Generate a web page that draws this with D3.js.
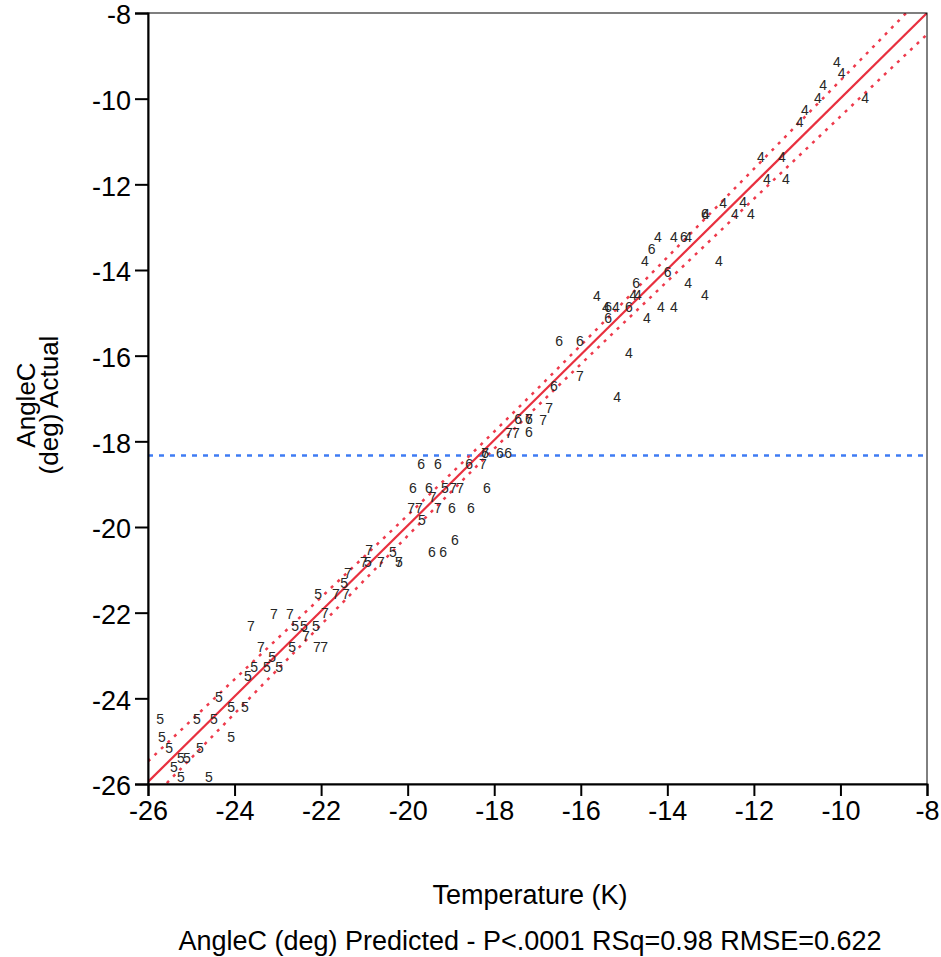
<!DOCTYPE html>
<html>
<head>
<meta charset="utf-8">
<script src="https://cdn.jsdelivr.net/npm/d3@7"></script>
<style>
  body { margin: 0; background: #fff; }
  text { font-family: "Liberation Sans", Arial, sans-serif; }
</style>
</head>
<body>
<div id="chart"></div>
<script>
// points, grouped by the label drawn at each one
var pts4 = [[-10.08,-9.14],[-9.97,-9.40],[-10.40,-9.68],[-10.52,-9.98],[-9.43,-9.98],
  [-10.82,-10.26],[-10.94,-10.54],[-11.84,-11.36],[-11.35,-11.36],[-11.70,-11.88],
  [-11.26,-11.88],[-12.71,-12.44],[-12.25,-12.41],[-13.11,-12.69],[-12.44,-12.69],
  [-12.07,-12.69],[-14.22,-13.23],[-13.85,-13.23],[-13.52,-13.23],[-14.52,-13.79],
  [-12.81,-13.79],[-13.52,-14.30],[-15.63,-14.61],[-14.79,-14.58],[-14.68,-14.58],
  [-13.13,-14.58],[-15.42,-14.86],[-15.19,-14.86],[-14.15,-14.86],[-13.85,-14.86],
  [-14.47,-15.12],[-14.89,-15.94],[-15.16,-16.97]];
var pts5 = [[-19.14,-19.09],[-19.67,-19.84],[-20.34,-20.58],[-20.92,-20.82],[-20.20,-20.82],
  [-21.47,-21.31],[-22.07,-21.57],[-22.60,-22.31],[-22.40,-22.31],[-22.12,-22.31],
  [-22.67,-22.80],[-23.13,-23.04],[-23.55,-23.27],[-23.25,-23.27],[-22.97,-23.27],
  [-23.69,-23.48],[-24.36,-23.97],[-24.08,-24.20],[-23.76,-24.20],[-25.72,-24.48],
  [-24.87,-24.48],[-24.48,-24.48],[-24.08,-24.90],[-25.68,-24.90],[-25.51,-25.16],
  [-24.80,-25.16],[-25.24,-25.40],[-25.10,-25.40],[-25.40,-25.60],[-25.24,-25.84],
  [-24.59,-25.84]];
var pts6 = [[-13.13,-12.69],[-13.62,-13.23],[-14.36,-13.51],[-13.99,-14.05],[-14.72,-14.30],
  [-15.37,-14.86],[-14.89,-14.86],[-15.37,-15.12],[-16.50,-15.66],[-16.02,-15.66],
  [-16.62,-16.71],[-17.45,-17.48],[-17.20,-17.48],[-17.20,-17.78],[-18.21,-18.27],
  [-17.87,-18.27],[-17.68,-18.27],[-19.69,-18.53],[-19.30,-18.53],[-18.58,-18.53],
  [-19.88,-19.09],[-19.51,-19.09],[-18.17,-19.09],[-18.98,-19.56],[-18.54,-19.56],
  [-18.91,-20.30],[-19.44,-20.58],[-19.18,-20.58]];
var pts7 = [[-16.02,-16.48],[-16.73,-17.22],[-17.20,-17.48],[-16.87,-17.50],[-17.66,-17.81],
  [-17.50,-17.81],[-18.21,-18.27],[-18.26,-18.53],[-18.95,-19.09],[-18.79,-19.09],
  [-19.42,-19.30],[-19.92,-19.56],[-19.74,-19.56],[-19.30,-19.56],[-20.89,-20.54],
  [-21.01,-20.82],[-20.62,-20.82],[-20.20,-20.82],[-21.38,-21.08],[-21.66,-21.57],
  [-21.43,-21.57],[-21.91,-22.01],[-23.09,-22.03],[-22.72,-22.03],[-23.62,-22.31],
  [-22.35,-22.55],[-23.39,-22.80],[-22.10,-22.80],[-21.93,-22.80]];

// fit line, confidence band half widths, mean of response
var fitX = [-26, -8];
var fitY = [-25.95, -8.0];
var bandX = [-26, -24, -22, -20, -18, -16, -14, -12, -10, -8];
var bandHalf = [0.48, 0.40, 0.32, 0.24, 0.20, 0.22, 0.28, 0.35, 0.42, 0.50];
var meanY = -18.33;

var ticks = [-26, -24, -22, -20, -18, -16, -14, -12, -10, -8];

var w = 941, h = 957;
var padL = 148, padR = 927, padT = 13, padB = 784;

var svg = d3.select("#chart").append("svg")
  .attr("width", w)
  .attr("height", h);

var xScale = d3.scaleLinear().domain([-26, -8]).range([padL, padR]);
var yScale = d3.scaleLinear().domain([-26, -8]).range([padB, padT]);
var fit = d3.scaleLinear().domain(fitX).range(fitY);

svg.append("defs").append("clipPath").attr("id", "plotclip")
  .append("rect")
  .attr("x", padL).attr("y", padT)
  .attr("width", padR - padL).attr("height", padB - padT);

var plot = svg.append("g").attr("clip-path", "url(#plotclip)");

// mean line
plot.append("line")
  .attr("x1", padL).attr("x2", padR)
  .attr("y1", yScale(meanY)).attr("y2", yScale(meanY))
  .attr("stroke", "#3f7cf4")
  .attr("stroke-width", 2.5)
  .attr("stroke-dasharray", "5,6");

// confidence curves
var band = bandX.map(function(x, i) { return { x: x, hw: bandHalf[i] }; });
var curve = d3.line().curve(d3.curveNatural)
  .x(function(d) { return xScale(d.x); });
[1, -1].forEach(function(s) {
  plot.append("path")
    .datum(band)
    .attr("d", curve.y(function(d) { return yScale(fit(d.x) + s * d.hw); }))
    .attr("fill", "none")
    .attr("stroke", "#ee3a4c")
    .attr("stroke-width", 2.5)
    .attr("stroke-dasharray", "3,6");
});

// fit line
plot.append("line")
  .attr("x1", xScale(fitX[0])).attr("y1", yScale(fitY[0]))
  .attr("x2", xScale(fitX[1])).attr("y2", yScale(fitY[1]))
  .attr("stroke", "#e8303f")
  .attr("stroke-width", 2.2);

// point labels
var groups = [["4", pts4], ["5", pts5], ["6", pts6], ["7", pts7]];
groups.forEach(function(g) {
  plot.append("g")
    .selectAll("text")
    .data(g[1])
    .enter()
    .append("text")
      .attr("x", function(d) { return xScale(d[0]); })
      .attr("y", function(d) { return yScale(d[1]); })
      .attr("text-anchor", "middle")
      .attr("dy", "0.36em")
      .attr("font-size", 14)
      .attr("fill", "#262626")
      .text(g[0]);
});

// frame
svg.append("rect")
  .attr("x", padL).attr("y", padT)
  .attr("width", padR - padL).attr("height", padB - padT)
  .attr("fill", "none")
  .attr("stroke", "#000")
  .attr("stroke-width", 1);

var xAxis = d3.axisBottom(xScale).tickValues(ticks).tickSize(12).tickPadding(5)
  .tickFormat(function(d) { return String(d); });
var yAxis = d3.axisLeft(yScale).tickValues(ticks).tickSize(13).tickPadding(4)
  .tickFormat(function(d) { return String(d); });

var gx = svg.append("g")
  .attr("transform", "translate(0," + padB + ")")
  .call(xAxis);
var gy = svg.append("g")
  .attr("transform", "translate(" + padL + ",0)")
  .call(yAxis);

[gx, gy].forEach(function(g) {
  g.select(".domain").attr("stroke", "#000").attr("stroke-width", 2);
  g.selectAll(".tick line").attr("stroke", "#000").attr("stroke-width", 2);
  g.selectAll(".tick text")
    .attr("fill", "#000")
    .attr("font-size", 27)
    .attr("font-family", "Liberation Sans, Arial, sans-serif");
});
gy.selectAll(".tick text").attr("dy", "0.4em");

// titles
svg.append("text")
  .attr("x", 530).attr("y", 904)
  .attr("text-anchor", "middle")
  .attr("font-size", 27)
  .attr("fill", "#000")
  .text("Temperature (K)");

svg.append("text")
  .attr("x", 530).attr("y", 950)
  .attr("text-anchor", "middle")
  .attr("font-size", 27)
  .attr("fill", "#000")
  .text("AngleC (deg) Predicted - P<.0001 RSq=0.98 RMSE=0.622");

var yTitle = svg.append("text")
  .attr("transform", "translate(35,405) rotate(-90)")
  .attr("text-anchor", "middle")
  .attr("font-size", 26)
  .attr("fill", "#000");
yTitle.append("tspan").attr("x", 0).attr("y", 0).text("AngleC");
yTitle.append("tspan").attr("x", 0).attr("y", 23).text("(deg) Actual");
</script>
</body>
</html>
